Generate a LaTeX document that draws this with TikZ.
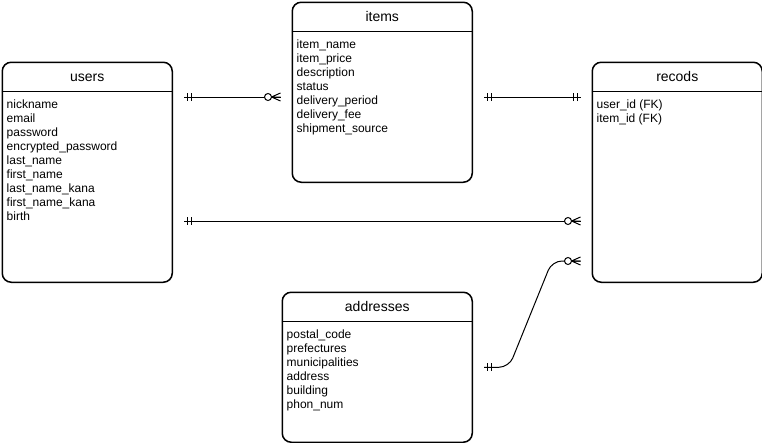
\documentclass[tikz,border=0pt]{standalone}
\usepackage{fontspec}
\setmainfont{Liberation Sans}
\usetikzlibrary{calc}
\tikzset{
 tbl/.style={draw, line width=1.5pt, rounded corners=9pt, fill=white, inner sep=0pt, anchor=north west},
 hdr/.style={line width=1.5pt},
 ttl/.style={font=\fontsize{14}{16}\selectfont, anchor=base, inner sep=0pt},
 fld/.style={font=\fontsize{12}{14}\selectfont, anchor=base west, inner sep=0pt},
 conn/.style={line width=1pt},
 mandone/.pic={\draw[line width=1pt] (3.5,-4) -- (3.5,4) (7,-4) -- (7,4);},
 zeromany/.pic={\draw[line width=1pt] (-9,0) -- (0,-4) (-9,0) -- (0,4) (-9,0) -- (0,0);
   \draw[line width=1pt, fill=white] (-12.5,0) circle (3.5pt);},
}
\begin{document}
\begin{tikzpicture}[x=1pt,y=-1pt]
\useasboundingbox[fill=white] (0,0) rectangle (762,442);

% tables
\node[tbl, minimum width=170pt, minimum height=220pt] (users) at (1.5,61.5) {};
\node[tbl, minimum width=180pt, minimum height=180pt] (items) at (291.5,1.5) {};
\node[tbl, minimum width=170pt, minimum height=220pt] (recods) at (591.5,61.5) {};
\node[tbl, minimum width=190pt, minimum height=150pt] (addresses) at (281.5,291.5) {};

\foreach \n in {users,items,recods,addresses}{
  \draw[hdr] ([yshift=-30pt]\n.north west) -- ([yshift=-30pt]\n.north east);
  \node[ttl] (\n-t) at ([yshift=-20pt]\n.north) {\n};
}

\foreach \t [count=\i] in {nickname,email,password,{encrypted\_password},{last\_name},{first\_name},{last\_name\_kana},{first\_name\_kana},birth}
  \node[fld] (users-f\i) at ([xshift=5pt,yshift={-(47+14*(\i-1))*1pt}]users.north west) {\t};
\foreach \t [count=\i] in {{item\_name},{item\_price},description,status,{delivery\_period},{delivery\_fee},{shipment\_source}}
  \node[fld] (items-f\i) at ([xshift=5pt,yshift={-(47+14*(\i-1))*1pt}]items.north west) {\t};
\foreach \t [count=\i] in {{user\_id (FK)},{item\_id (FK)}}
  \node[fld] (recods-f\i) at ([xshift=5pt,yshift={-(47+14*(\i-1))*1pt}]recods.north west) {\t};
\foreach \t [count=\i] in {{postal\_code},prefectures,municipalities,address,building,{phon\_num}}
  \node[fld] (addresses-f\i) at ([xshift=5pt,yshift={-(47+14*(\i-1))*1pt}]addresses.north west) {\t};

% connector ends
\coordinate (e1s) at ([xshift=11pt,yshift=-35.5pt]users.north east);
\coordinate (e1e) at ([xshift=-11pt,yshift=-95.5pt]items.north west);
\coordinate (e2s) at ([xshift=11pt,yshift=-95.5pt]items.north east);
\coordinate (e2e) at ([xshift=-11pt,yshift=-35.5pt]recods.north west);
\coordinate (e3s) at ([xshift=11pt,yshift=-159.5pt]users.north east);
\coordinate (e3e) at ([xshift=-11pt,yshift=-159.5pt]recods.north west);
\coordinate (e4s) at ([xshift=11pt]addresses.east);
\coordinate (e4e) at ([xshift=-11pt,yshift=-199.5pt]recods.north west);

\draw[conn] (e1s) -- (e1e);
\draw[conn] (e2s) -- (e2e);
\draw[conn] (e3s) -- (e3e);
\draw[conn, rounded corners=10pt] (e4s) -- ++(25,0) -- ($(e4e)+(-28.5,0)$) -- (e4e);

\pic at (e1s) {mandone};
\pic at (e1e) {zeromany};
\pic at (e2s) {mandone};
\pic[rotate=180] at (e2e) {mandone};
\pic at (e3s) {mandone};
\pic at (e3e) {zeromany};
\pic at (e4s) {mandone};
\pic at (e4e) {zeromany};
\end{tikzpicture}
\end{document}
